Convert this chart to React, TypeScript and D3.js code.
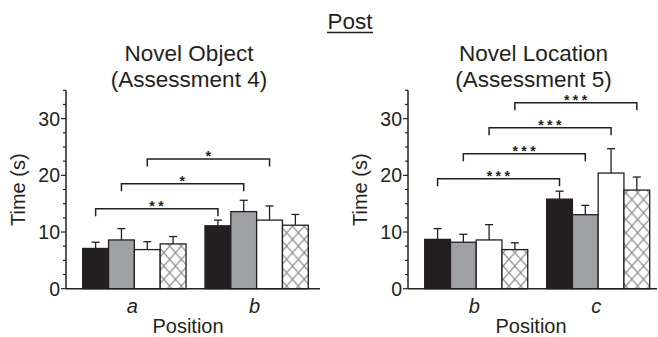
import React from 'react'
import * as d3 from 'd3'

// series order: black, gray, white, hatched
const seriesKeys = ['s1', 's2', 's3', 's4']
const seriesFills = ['#231f20', '#9fa0a3', '#ffffff', 'url(#xhatch)']

const objCategories = ['a', 'b']
const objMeans = [
  [7.1, 8.6, 6.9, 7.9],
  [11.1, 13.6, 12.1, 11.2],
]
const objErrors = [
  [1.1, 2.0, 1.4, 1.3],
  [1.0, 2.0, 2.5, 1.9],
]
const objBrackets = [
  { from: [0, 0], to: [1, 0], level: 14.1, label: '**' },
  { from: [0, 1], to: [1, 1], level: 18.5, label: '*' },
  { from: [0, 2], to: [1, 2], level: 22.9, label: '*' },
]

const locCategories = ['b', 'c']
const locMeans = [
  [8.7, 8.2, 8.6, 6.9],
  [15.8, 13.05, 20.4, 17.4],
]
const locErrors = [
  [1.9, 1.4, 2.7, 1.2],
  [1.4, 1.65, 4.3, 2.3],
]
const locBrackets = [
  { from: [0, 0], to: [1, 0], level: 19.4, label: '***' },
  { from: [0, 1], to: [1, 1], level: 23.8, label: '***' },
  { from: [0, 2], to: [1, 2], level: 28.4, label: '***' },
  { from: [0, 3], to: [1, 3], level: 32.8, label: '***' },
]

const majorTicks = [0, 10, 20, 30]
const minorTicks = d3.range(0, 35.01, 2.5)

const FONT = 'Liberation Sans, Arial, Helvetica, sans-serif'
const INK = '#231f20'

const y = d3.scaleLinear().domain([0, 35]).range([288.7, 90.3])

type Bracket = { from: number[]; to: number[]; level: number; label: string }

const Panel = ({
  axisX,
  axisEnd,
  barsStart,
  barsEnd,
  categories,
  means,
  errors,
  brackets,
  titleLines,
  titleX,
  xLabelX,
}: {
  axisX: number
  axisEnd: number
  barsStart: number
  barsEnd: number
  categories: string[]
  means: number[][]
  errors: number[][]
  brackets: Bracket[]
  titleLines: string[]
  titleX: number
  xLabelX: number
}) => {
  const x0 = d3
    .scaleBand<string>()
    .domain(categories)
    .range([barsStart, barsEnd])
    .paddingInner(0.155)
  const x1 = d3
    .scaleBand<string>()
    .domain(seriesKeys)
    .range([0, x0.bandwidth()])
  const barCenter = (g: number, s: number) =>
    (x0(categories[g]) as number) + (x1(seriesKeys[s]) as number) + x1.bandwidth() / 2

  return (
    <g>
      {/* titles */}
      {titleLines.map((t, i) => (
        <text
          key={t}
          x={titleX}
          y={60.6 + i * 26.6}
          textAnchor="middle"
          fontSize={22.5}
          fill={INK}
        >
          {t}
        </text>
      ))}

      {/* bars + error bars */}
      {categories.map((cat, gi) =>
        seriesKeys.map((key, si) => {
          const bx = (x0(cat) as number) + (x1(key) as number)
          const m = means[gi][si]
          const e = errors[gi][si]
          const cx = barCenter(gi, si)
          return (
            <g key={cat + key}>
              <line x1={cx} x2={cx} y1={y(m)} y2={y(m + e)} stroke={INK} strokeWidth={1.3} />
              <line x1={cx - 4} x2={cx + 4} y1={y(m + e)} y2={y(m + e)} stroke={INK} strokeWidth={1.3} />
              <rect
                x={bx}
                y={y(m)}
                width={x1.bandwidth()}
                height={y(0) - y(m)}
                fill={seriesFills[si]}
                stroke={INK}
                strokeWidth={1.3}
              />
            </g>
          )
        })
      )}

      {/* significance brackets */}
      {brackets.map((b, i) => {
        const xa = barCenter(b.from[0], b.from[1])
        const xb = barCenter(b.to[0], b.to[1])
        const ly = y(b.level)
        return (
          <g key={i}>
            <path
              d={`M${xa},${ly + 7.5}V${ly}H${xb}V${ly + 7.5}`}
              fill="none"
              stroke={INK}
              strokeWidth={1.5}
            />
            <text
              x={(xa + xb) / 2 + 1.5}
              y={ly + 2}
              textAnchor="middle"
              fontSize={14}
              fontWeight="bold"
              letterSpacing={3.5}
              fill={INK}
            >
              {b.label}
            </text>
          </g>
        )
      })}

      {/* y axis */}
      <line x1={axisX} x2={axisX} y1={y(35)} y2={y(0)} stroke={INK} strokeWidth={1.5} />
      {minorTicks.map((t) => (
        <line
          key={t}
          x1={axisX - (majorTicks.includes(t) ? 5 : 3)}
          x2={axisX}
          y1={y(t)}
          y2={y(t)}
          stroke={INK}
          strokeWidth={1.2}
        />
      ))}
      {majorTicks.map((t) => (
        <text key={t} x={axisX - 6} y={y(t)} dy="0.36em" textAnchor="end" fontSize={19.5} fill={INK}>
          {t}
        </text>
      ))}
      <text
        transform={`translate(${axisX - 41},189.7) rotate(-90)`}
        textAnchor="middle"
        fontSize={20}
        fill={INK}
      >
        Time (s)
      </text>

      {/* x axis */}
      <line x1={axisX} x2={axisEnd} y1={y(0)} y2={y(0)} stroke={INK} strokeWidth={1.5} />
      {categories.map((cat) => (
        <text
          key={cat}
          x={(x0(cat) as number) + x0.bandwidth() / 2 - 2}
          y={312.7}
          textAnchor="middle"
          fontSize={20}
          fontStyle="italic"
          fill={INK}
        >
          {cat}
        </text>
      ))}
      <text x={xLabelX} y={333.3} textAnchor="middle" fontSize={20} fill={INK}>
        Position
      </text>
    </g>
  )
}

const App = () => {
  return (
    <svg
      width={658}
      height={337}
      style={{ position: 'absolute', left: 0, top: 0, background: '#fff' }}
      fontFamily={FONT}
    >
      <defs>
        <pattern id="xhatch" patternUnits="userSpaceOnUse" width={11.7} height={13.3}>
          <rect width={11.7} height={13.3} fill="#fff" />
          <path d="M0,0L11.7,13.3M11.7,0L0,13.3" stroke="#8c8c8c" strokeWidth={1.2} />
        </pattern>
      </defs>
      <rect width={658} height={337} fill="#fff" />

      <text x={350} y={29} textAnchor="middle" fontSize={22.5} fill={INK}>
        Post
      </text>
      <line x1={327} x2={373} y1={32.5} y2={32.5} stroke={INK} strokeWidth={1.3} />

      <Panel
        axisX={66}
        axisEnd={320}
        barsStart={82.7}
        barsEnd={308.3}
        categories={objCategories}
        means={objMeans}
        errors={objErrors}
        brackets={objBrackets}
        titleLines={['Novel Object', '(Assessment 4)']}
        titleX={189}
        xLabelX={188}
      />
      <Panel
        axisX={408}
        axisEnd={657}
        barsStart={424.7}
        barsEnd={649.7}
        categories={locCategories}
        means={locMeans}
        errors={locErrors}
        brackets={locBrackets}
        titleLines={['Novel Location', '(Assessment 5)']}
        titleX={533.5}
        xLabelX={531}
      />
    </svg>
  )
}

export default App
